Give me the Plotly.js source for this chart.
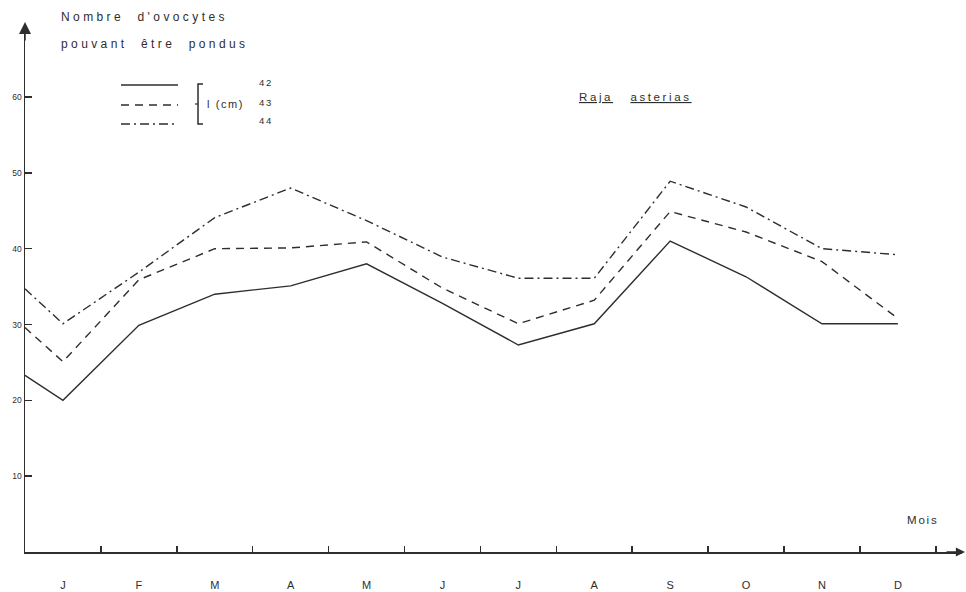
<!DOCTYPE html>
<html><head><meta charset="utf-8">
<script src="https://cdn.plot.ly/plotly-3.0.1.min.js"></script>
<style>body{margin:0;background:#fff}#c{width:966px;height:592px}</style>
</head><body><div id="c"></div>
<script>
// Data
const months = ['J','F','M','A','M','J','J','A','S','O','N','D'];
// first value = level where each curve meets the y-axis (end of previous year), then J..D
const lengths = ['42','43','44'];
const l42 = [23.3, 20.0, 29.9, 34.0, 35.1, 38.0, 32.8, 27.3, 30.1, 41.0, 36.3, 30.1, 30.1];
const l43 = [29.6, 25.1, 35.9, 40.0, 40.1, 40.9, 34.8, 30.1, 33.2, 44.9, 42.2, 38.3, 30.8];
const l44 = [34.7, 30.1, 36.9, 44.1, 48.0, 43.7, 38.9, 36.1, 36.1, 48.9, 45.5, 40.0, 39.2];
const yTicks = [10, 20, 30, 40, 50, 60];

const monthIdx = months.map((m, i) => i);
const xs = [-0.5].concat(monthIdx);
const ink = '#2e2e2e';
const dashes = ['solid', '8px,6px', '9px,4px,2px,4px'];
const series = [l42, l43, l44];

const W = 966, H = 592, mL = 25, mR = 4, mT = 25, mB = 40;
const px = x => (x - mL) / (W - mL - mR);
const py = y => (H - mB - y) / (H - mT - mB);

const traces = series.map((s, k) => ({
  x: xs, y: s, type: 'scatter', mode: 'lines', name: lengths[k],
  line: {color: ink, width: 1.4, dash: dashes[k]}, showlegend: false, hoverinfo: 'skip'
}));
// minor ticks between months on a matching overlay axis
traces.push({x: [0.5], y: [null], xaxis: 'x2', yaxis: 'y', type: 'scatter', mode: 'lines', showlegend: false});

const sp = (t, ls) => '<span style="letter-spacing:' + ls + 'px">' + t + '</span>';
const font = 'Liberation Sans, Arial, sans-serif';

const shapes = [];
const annotations = [];
// legend samples
const legY = [85, 105, 124];
series.forEach((s, k) => {
  shapes.push({type: 'line', xref: 'paper', yref: 'paper', x0: px(121), x1: px(178), y0: py(legY[k]), y1: py(legY[k]),
    line: {color: ink, width: 1.4, dash: dashes[k]}});
  annotations.push({xref: 'paper', yref: 'paper', x: px(257), y: py(legY[k] - 3), xanchor: 'left', yanchor: 'middle',
    text: sp(lengths[k], 1.8), showarrow: false, font: {family: font, size: 9.5, color: ink}});
});
// bracket
shapes.push({type: 'path', xref: 'paper', yref: 'paper',
  path: 'M' + px(203) + ',' + py(84) + ' L' + px(198) + ',' + py(84) + ' L' + px(198) + ',' + py(124) + ' L' + px(203) + ',' + py(124),
  line: {color: ink, width: 1.5}});
shapes.push({type: 'line', xref: 'paper', yref: 'paper', x0: px(195), x1: px(198), y0: py(104), y1: py(104), line: {color: ink, width: 1.2}});
annotations.push({xref: 'paper', yref: 'paper', x: px(205), y: py(104), xanchor: 'left', yanchor: 'middle',
  text: sp('l (cm)', 1.6), showarrow: false, font: {family: font, size: 11, color: ink}});

// titles
annotations.push({xref: 'paper', yref: 'paper', x: px(59), y: py(17), xanchor: 'left', yanchor: 'middle',
  text: sp('Nombre&nbsp;&nbsp;d\'ovocytes', 3.4), showarrow: false, font: {family: font, size: 12, color: ink}});
annotations.push({xref: 'paper', yref: 'paper', x: px(59), y: py(44), xanchor: 'left', yanchor: 'middle',
  text: sp('pouvant&nbsp;&nbsp;être&nbsp;&nbsp;pondus', 3.4), showarrow: false, font: {family: font, size: 12, color: ink}});
annotations.push({xref: 'paper', yref: 'paper', x: px(577), y: py(97), xanchor: 'left', yanchor: 'middle',
  text: sp('<u>Raja</u>&nbsp;&nbsp;&nbsp;<u>asterias</u>', 2.6), showarrow: false, font: {family: font, size: 11.5, color: ink}});
annotations.push({xref: 'paper', yref: 'paper', x: px(905), y: py(520), xanchor: 'left', yanchor: 'middle',
  text: sp('Mois', 1.8), showarrow: false, font: {family: font, size: 11.5, color: ink}});

// axis arrows
annotations.push({xref: 'paper', yref: 'paper', x: 0, y: py(22), ax: 0, ay: 20, axref: 'pixel', ayref: 'pixel',
  text: '', showarrow: true, arrowhead: 2, arrowsize: 1.6, arrowwidth: 1.5, arrowcolor: ink});
annotations.push({xref: 'paper', yref: 'paper', x: px(965), y: 0, ax: -20, ay: 0,
  text: '', showarrow: true, arrowhead: 2, arrowsize: 1.4, arrowwidth: 1.3, arrowcolor: ink});

const layout = {
  width: W, height: H, margin: {l: mL, r: mR, t: mT, b: mB},
  paper_bgcolor: '#fff', plot_bgcolor: '#fff',
  showlegend: false,
  xaxis: {range: [-0.5, 11.845], tickvals: monthIdx, ticktext: months, ticks: '', showgrid: false, zeroline: false,
    showline: true, linecolor: ink, linewidth: 1.5, ticklabelstandoff: 22,
    tickfont: {family: font, size: 11, color: ink}},
  xaxis2: {overlaying: 'x', anchor: 'y', matches: 'x', range: [-0.5, 11.845], tickvals: monthIdx.map(i => i + 0.5),
    ticks: 'inside', ticklen: 6, tickwidth: 1.5, tickcolor: ink, showticklabels: false, showgrid: false, zeroline: false, showline: false},
  yaxis: {range: [0, 69.5], tickvals: yTicks, ticks: 'inside', ticklen: 7, tickwidth: 1.5, tickcolor: ink,
    showgrid: false, zeroline: false, showline: true, linecolor: ink, linewidth: 1.5,
    tickfont: {family: font, size: 8.5, color: ink}},
  shapes: shapes, annotations: annotations
};
Plotly.newPlot('c', traces, layout, {staticPlot: true});
</script></body></html>
